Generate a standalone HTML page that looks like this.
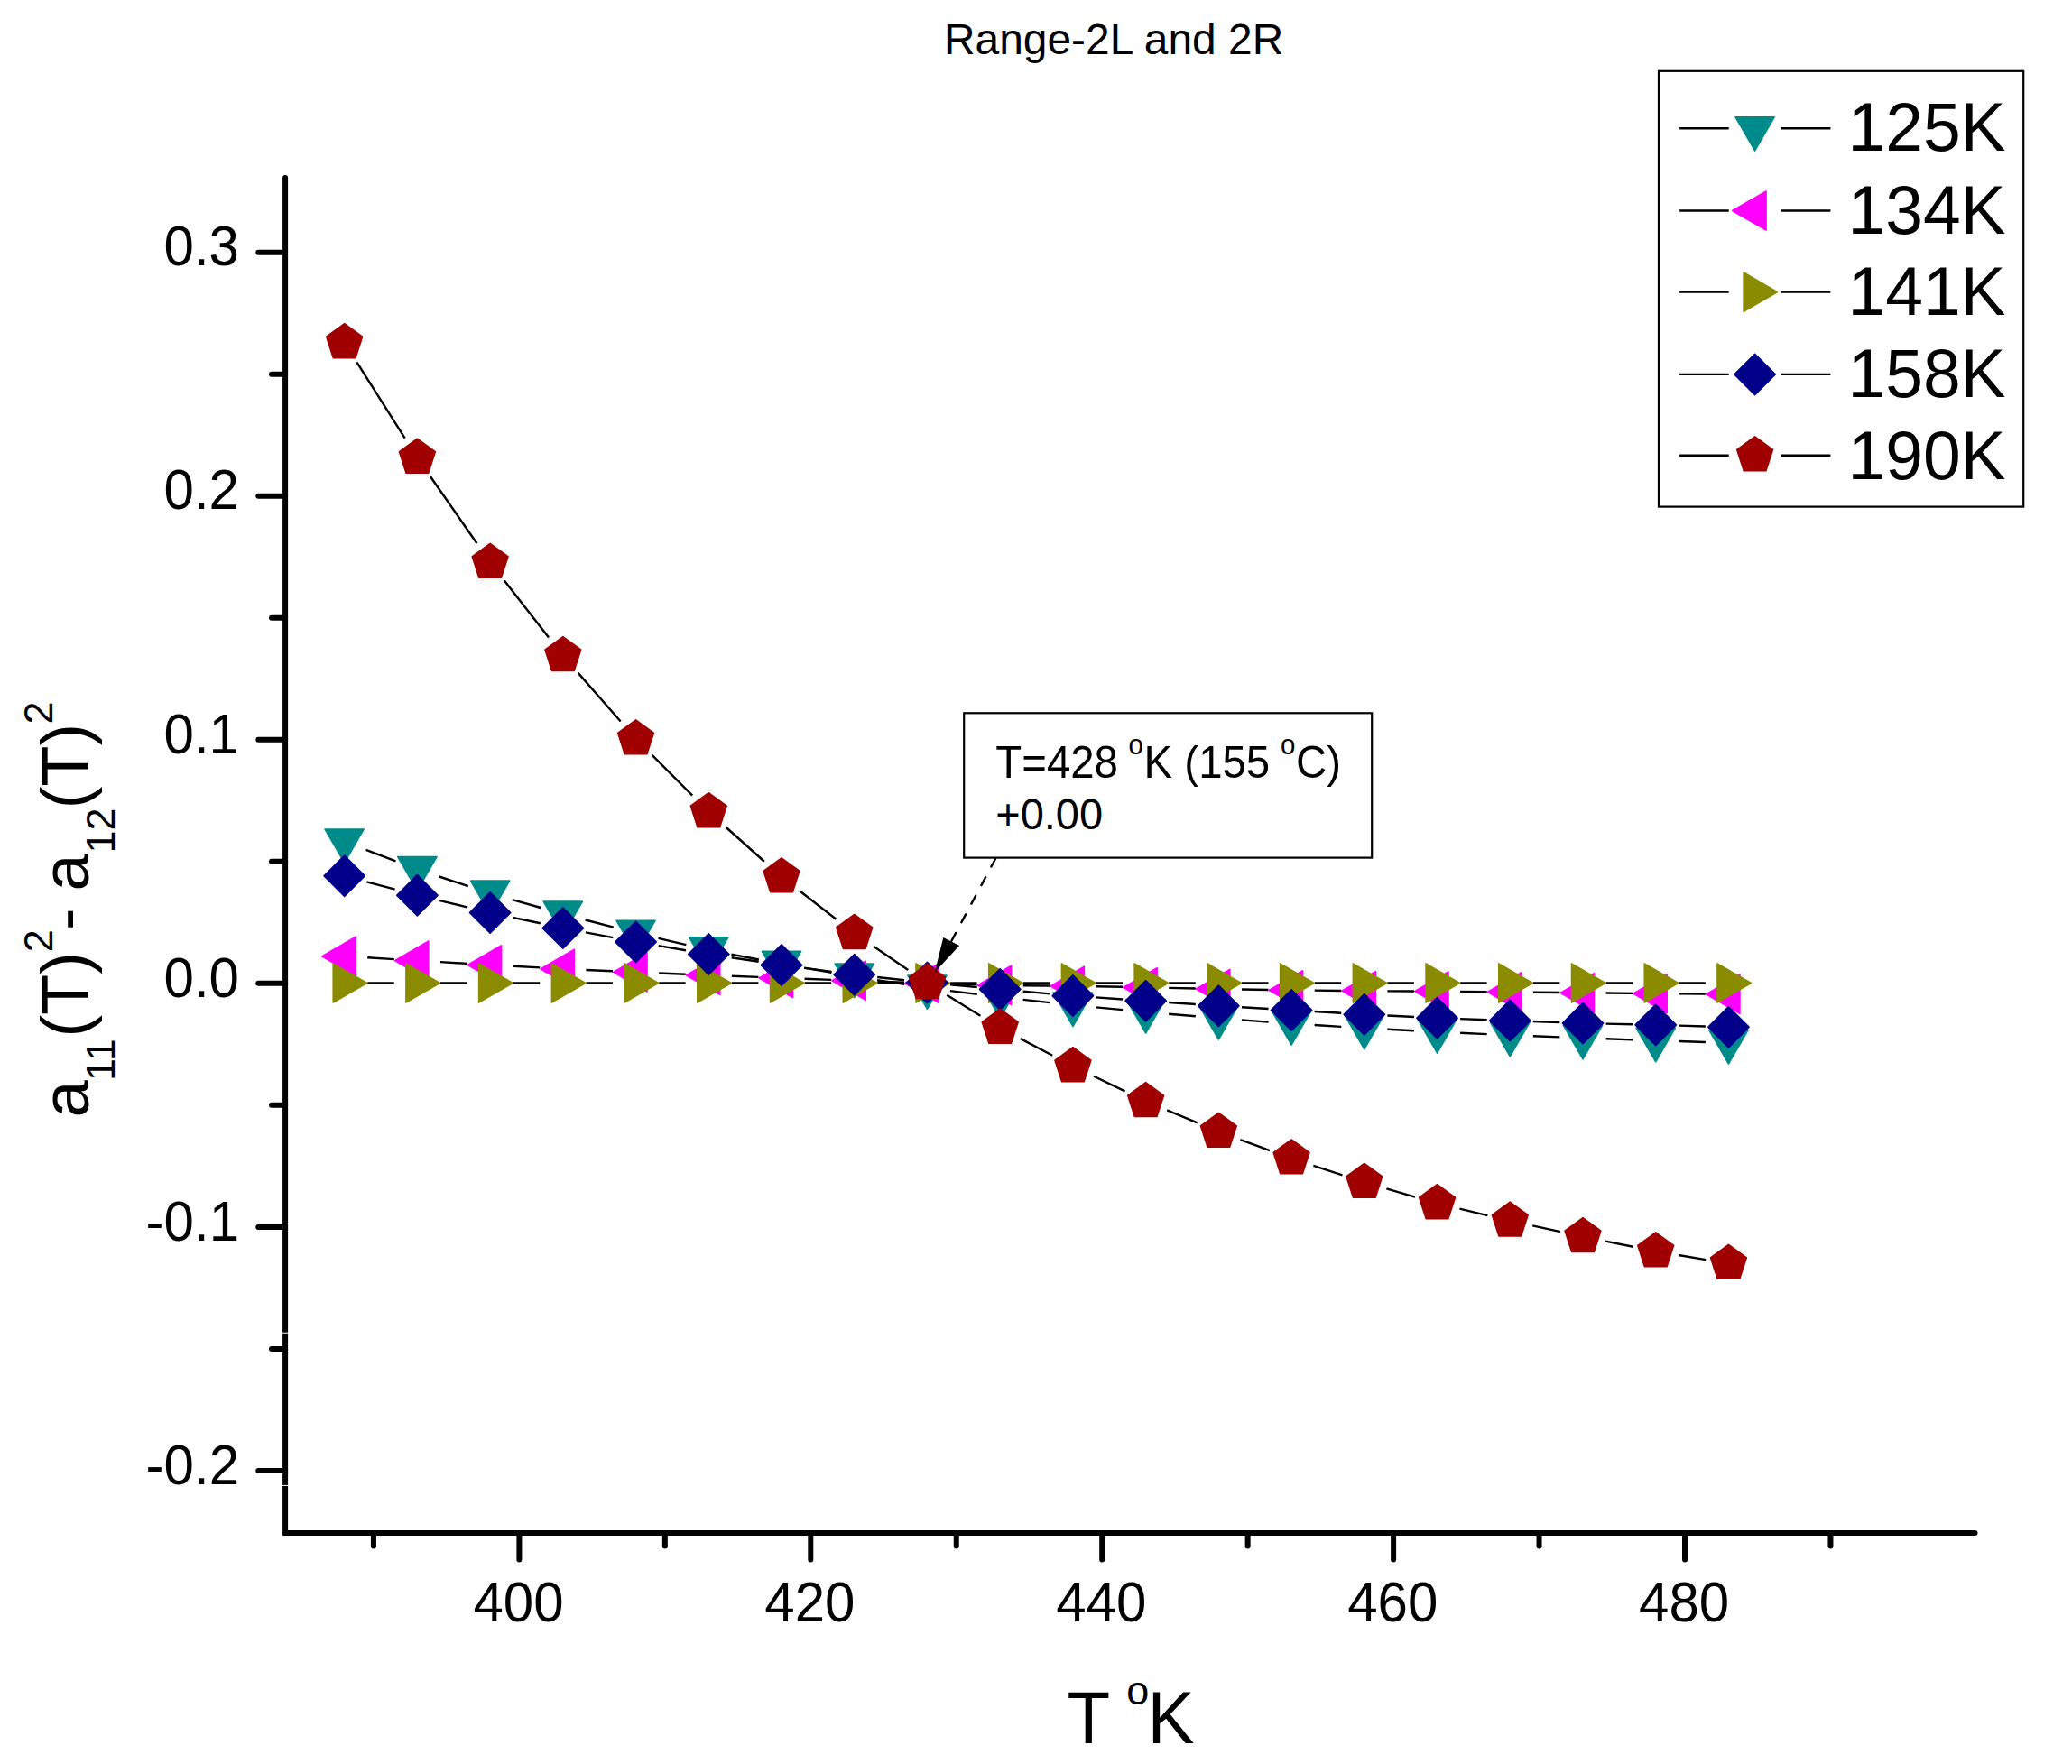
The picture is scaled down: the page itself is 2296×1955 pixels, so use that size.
<!DOCTYPE html>
<html lang="en"><head><meta charset="utf-8"><title>Range-2L and 2R</title>
<style>html,body{margin:0;padding:0;background:#fff}body{width:2296px;height:1955px;overflow:hidden}svg{display:block}text{font-family:"Liberation Sans",Arial,Helvetica,sans-serif;fill:#000}</style></head><body>
<svg width="2296" height="1955" viewBox="0 0 2296 1955">
<rect width="2296" height="1955" fill="#fff"/>
<text x="1234.1" y="60.4" font-size="47.9" text-anchor="middle">Range-2L and 2R</text>
<g stroke="#000" stroke-width="6" stroke-linecap="round" fill="none">
<path d="M316.1 197L316.1 1699L2188.5 1699" stroke-linejoin="miter"/>
<path d="M286.3 279.76L316.1 279.76"/>
<path d="M301 414.77L316.1 414.77"/>
<path d="M286.3 549.79L316.1 549.79"/>
<path d="M301 684.8L316.1 684.8"/>
<path d="M286.3 819.82L316.1 819.82"/>
<path d="M301 954.83L316.1 954.83"/>
<path d="M286.3 1089.85L316.1 1089.85"/>
<path d="M301 1224.87L316.1 1224.87"/>
<path d="M286.3 1359.88L316.1 1359.88"/>
<path d="M301 1494.89L316.1 1494.89"/>
<path d="M286.3 1629.91L316.1 1629.91"/>
<path d="M413.95 1699L413.95 1713.5"/>
<path d="M575.4 1699L575.4 1728.5"/>
<path d="M736.85 1699L736.85 1713.5"/>
<path d="M898.3 1699L898.3 1728.5"/>
<path d="M1059.75 1699L1059.75 1713.5"/>
<path d="M1221.2 1699L1221.2 1728.5"/>
<path d="M1382.65 1699L1382.65 1713.5"/>
<path d="M1544.1 1699L1544.1 1728.5"/>
<path d="M1705.55 1699L1705.55 1713.5"/>
<path d="M1867 1699L1867 1728.5"/>
<path d="M2028.45 1699L2028.45 1713.5"/>
</g>
<path d="M312 1477.2h9M312 1646.4h9" stroke="#fff" stroke-width="1"/>
<g font-size="60">
<text transform="translate(265 294.46) scale(1 1.04)" text-anchor="end">0.3</text>
<text transform="translate(265 564.49) scale(1 1.04)" text-anchor="end">0.2</text>
<text transform="translate(265 834.52) scale(1 1.04)" text-anchor="end">0.1</text>
<text transform="translate(265 1104.55) scale(1 1.04)" text-anchor="end">0.0</text>
<text transform="translate(265 1374.58) scale(1 1.04)" text-anchor="end">-0.1</text>
<text transform="translate(265 1644.61) scale(1 1.04)" text-anchor="end">-0.2</text>
<text transform="translate(574.5 1796.6) scale(1 1.04)" text-anchor="middle">400</text>
<text transform="translate(897.4 1796.6) scale(1 1.04)" text-anchor="middle">420</text>
<text transform="translate(1220.3 1796.6) scale(1 1.04)" text-anchor="middle">440</text>
<text transform="translate(1543.2 1796.6) scale(1 1.04)" text-anchor="middle">460</text>
<text transform="translate(1866.1 1796.6) scale(1 1.04)" text-anchor="middle">480</text>
</g>
<g><path d="M405.6 941.97L438.45 954.43M486.7 971.51L518.8 982.09M567.74 997.09L599.21 1006.01M648.6 1019.5L679.8 1027.7M729.51 1039.95L760.34 1047.05M810.43 1057.63L840.87 1063.47M891.24 1072.61L921.5 1077.79M972.02 1086.11L1002.18 1090.89M1052.86 1098.08L1082.78 1101.82M1133.63 1107.84L1163.47 1111.16M1214.4 1116.37L1244.14 1119.13M1295.14 1123.71L1324.86 1126.29M1375.89 1130.4L1405.56 1132.6M1456.64 1136.05L1486.26 1137.85M1537.38 1140.73L1566.97 1142.27M1618.11 1144.77L1647.69 1146.13M1698.84 1148.28L1728.4 1149.42M1779.57 1151.32L1809.13 1152.38M1860.3 1154.06L1889.85 1154.94" stroke="#000" stroke-width="2.4" fill="none"/>
<polygon points="381.66,956.4 360.01,918.9 403.31,918.9" fill="#008B8B" stroke="#008B8B" stroke-width="1.5" stroke-linejoin="round"/>
<polygon points="462.38,987 440.73,949.5 484.04,949.5" fill="#008B8B" stroke="#008B8B" stroke-width="1.5" stroke-linejoin="round"/>
<polygon points="543.11,1013.6 521.46,976.1 564.76,976.1" fill="#008B8B" stroke="#008B8B" stroke-width="1.5" stroke-linejoin="round"/>
<polygon points="623.84,1036.5 602.18,999 645.49,999" fill="#008B8B" stroke="#008B8B" stroke-width="1.5" stroke-linejoin="round"/>
<polygon points="704.56,1057.7 682.91,1020.2 726.21,1020.2" fill="#008B8B" stroke="#008B8B" stroke-width="1.5" stroke-linejoin="round"/>
<polygon points="785.28,1076.3 763.63,1038.8 806.94,1038.8" fill="#008B8B" stroke="#008B8B" stroke-width="1.5" stroke-linejoin="round"/>
<polygon points="866.01,1091.8 844.36,1054.3 887.66,1054.3" fill="#008B8B" stroke="#008B8B" stroke-width="1.5" stroke-linejoin="round"/>
<polygon points="946.73,1105.6 925.08,1068.1 968.39,1068.1" fill="#008B8B" stroke="#008B8B" stroke-width="1.5" stroke-linejoin="round"/>
<polygon points="1027.46,1118.4 1005.81,1080.9 1049.11,1080.9" fill="#008B8B" stroke="#008B8B" stroke-width="1.5" stroke-linejoin="round"/>
<polygon points="1108.18,1128.5 1086.53,1091 1129.84,1091" fill="#008B8B" stroke="#008B8B" stroke-width="1.5" stroke-linejoin="round"/>
<polygon points="1188.91,1137.5 1167.26,1100 1210.56,1100" fill="#008B8B" stroke="#008B8B" stroke-width="1.5" stroke-linejoin="round"/>
<polygon points="1269.63,1145 1247.98,1107.5 1291.29,1107.5" fill="#008B8B" stroke="#008B8B" stroke-width="1.5" stroke-linejoin="round"/>
<polygon points="1350.36,1152 1328.71,1114.5 1372.01,1114.5" fill="#008B8B" stroke="#008B8B" stroke-width="1.5" stroke-linejoin="round"/>
<polygon points="1431.09,1158 1409.43,1120.5 1452.74,1120.5" fill="#008B8B" stroke="#008B8B" stroke-width="1.5" stroke-linejoin="round"/>
<polygon points="1511.81,1162.9 1490.16,1125.4 1533.46,1125.4" fill="#008B8B" stroke="#008B8B" stroke-width="1.5" stroke-linejoin="round"/>
<polygon points="1592.53,1167.1 1570.88,1129.6 1614.19,1129.6" fill="#008B8B" stroke="#008B8B" stroke-width="1.5" stroke-linejoin="round"/>
<polygon points="1673.26,1170.8 1651.61,1133.3 1694.91,1133.3" fill="#008B8B" stroke="#008B8B" stroke-width="1.5" stroke-linejoin="round"/>
<polygon points="1753.99,1173.9 1732.33,1136.4 1775.64,1136.4" fill="#008B8B" stroke="#008B8B" stroke-width="1.5" stroke-linejoin="round"/>
<polygon points="1834.71,1176.8 1813.06,1139.3 1856.36,1139.3" fill="#008B8B" stroke="#008B8B" stroke-width="1.5" stroke-linejoin="round"/>
<polygon points="1915.43,1179.2 1893.78,1141.7 1937.09,1141.7" fill="#008B8B" stroke="#008B8B" stroke-width="1.5" stroke-linejoin="round"/></g>
<g><path d="M407.21 1061.32L436.83 1063.08M487.94 1066.12L517.56 1067.88M568.67 1070.79L598.27 1072.41M649.41 1074.94L678.99 1076.26M730.14 1078.48L759.71 1079.72M810.87 1081.78L840.43 1082.92M891.59 1084.82L921.15 1085.88M972.32 1087.69L1001.88 1088.71M1053.05 1090.33L1082.6 1091.17M1133.78 1092.19L1163.31 1092.51M1214.51 1093.28L1244.04 1093.82M1295.23 1094.84L1324.77 1095.46M1375.96 1096.44L1405.49 1096.96M1456.68 1097.65L1486.21 1097.95M1537.41 1098.33L1566.94 1098.47M1618.13 1098.85L1647.66 1099.15M1698.86 1099.69L1728.39 1100.01M1779.58 1100.55L1809.11 1100.85M1860.31 1101.32L1889.84 1101.58" stroke="#000" stroke-width="2.4" fill="none"/>
<polygon points="356.66,1059.8 394.16,1038.15 394.16,1081.45" fill="#FF00FF" stroke="#FF00FF" stroke-width="1.5" stroke-linejoin="round"/>
<polygon points="437.38,1064.6 474.88,1042.95 474.88,1086.25" fill="#FF00FF" stroke="#FF00FF" stroke-width="1.5" stroke-linejoin="round"/>
<polygon points="518.11,1069.4 555.61,1047.75 555.61,1091.05" fill="#FF00FF" stroke="#FF00FF" stroke-width="1.5" stroke-linejoin="round"/>
<polygon points="598.84,1073.8 636.34,1052.15 636.34,1095.45" fill="#FF00FF" stroke="#FF00FF" stroke-width="1.5" stroke-linejoin="round"/>
<polygon points="679.56,1077.4 717.06,1055.75 717.06,1099.05" fill="#FF00FF" stroke="#FF00FF" stroke-width="1.5" stroke-linejoin="round"/>
<polygon points="760.28,1080.8 797.78,1059.15 797.78,1102.45" fill="#FF00FF" stroke="#FF00FF" stroke-width="1.5" stroke-linejoin="round"/>
<polygon points="841.01,1083.9 878.51,1062.25 878.51,1105.55" fill="#FF00FF" stroke="#FF00FF" stroke-width="1.5" stroke-linejoin="round"/>
<polygon points="921.73,1086.8 959.23,1065.15 959.23,1108.45" fill="#FF00FF" stroke="#FF00FF" stroke-width="1.5" stroke-linejoin="round"/>
<polygon points="1002.46,1089.6 1039.96,1067.95 1039.96,1111.25" fill="#FF00FF" stroke="#FF00FF" stroke-width="1.5" stroke-linejoin="round"/>
<polygon points="1083.18,1091.9 1120.68,1070.25 1120.68,1113.55" fill="#FF00FF" stroke="#FF00FF" stroke-width="1.5" stroke-linejoin="round"/>
<polygon points="1163.91,1092.8 1201.41,1071.15 1201.41,1114.45" fill="#FF00FF" stroke="#FF00FF" stroke-width="1.5" stroke-linejoin="round"/>
<polygon points="1244.63,1094.3 1282.13,1072.65 1282.13,1115.95" fill="#FF00FF" stroke="#FF00FF" stroke-width="1.5" stroke-linejoin="round"/>
<polygon points="1325.36,1096 1362.86,1074.35 1362.86,1117.65" fill="#FF00FF" stroke="#FF00FF" stroke-width="1.5" stroke-linejoin="round"/>
<polygon points="1406.09,1097.4 1443.59,1075.75 1443.59,1119.05" fill="#FF00FF" stroke="#FF00FF" stroke-width="1.5" stroke-linejoin="round"/>
<polygon points="1486.81,1098.2 1524.31,1076.55 1524.31,1119.85" fill="#FF00FF" stroke="#FF00FF" stroke-width="1.5" stroke-linejoin="round"/>
<polygon points="1567.53,1098.6 1605.03,1076.95 1605.03,1120.25" fill="#FF00FF" stroke="#FF00FF" stroke-width="1.5" stroke-linejoin="round"/>
<polygon points="1648.26,1099.4 1685.76,1077.75 1685.76,1121.05" fill="#FF00FF" stroke="#FF00FF" stroke-width="1.5" stroke-linejoin="round"/>
<polygon points="1728.99,1100.3 1766.49,1078.65 1766.49,1121.95" fill="#FF00FF" stroke="#FF00FF" stroke-width="1.5" stroke-linejoin="round"/>
<polygon points="1809.71,1101.1 1847.21,1079.45 1847.21,1122.75" fill="#FF00FF" stroke="#FF00FF" stroke-width="1.5" stroke-linejoin="round"/>
<polygon points="1890.43,1101.8 1927.93,1080.15 1927.93,1123.45" fill="#FF00FF" stroke="#FF00FF" stroke-width="1.5" stroke-linejoin="round"/></g>
<g><path d="M407.26 1089.5L436.78 1089.5M487.99 1089.5L517.51 1089.5M568.71 1089.5L598.24 1089.5M649.44 1089.5L678.96 1089.5M730.16 1089.5L759.68 1089.5M810.88 1089.5L840.41 1089.5M891.61 1089.5L921.13 1089.5M972.33 1089.5L1001.86 1089.5M1053.06 1089.5L1082.59 1089.5M1133.78 1089.5L1163.31 1089.5M1214.51 1089.5L1244.04 1089.5M1295.23 1089.5L1324.76 1089.5M1375.96 1089.5L1405.49 1089.5M1456.68 1089.5L1486.21 1089.5M1537.41 1089.5L1566.93 1089.5M1618.13 1089.5L1647.66 1089.5M1698.86 1089.5L1728.39 1089.5M1779.59 1089.5L1809.11 1089.5M1860.31 1089.5L1889.84 1089.5" stroke="#000" stroke-width="2.4" fill="none"/>
<polygon points="406.66,1089.5 369.16,1111.15 369.16,1067.85" fill="#8B8B00" stroke="#8B8B00" stroke-width="1.5" stroke-linejoin="round"/>
<polygon points="487.38,1089.5 449.88,1111.15 449.88,1067.85" fill="#8B8B00" stroke="#8B8B00" stroke-width="1.5" stroke-linejoin="round"/>
<polygon points="568.11,1089.5 530.61,1111.15 530.61,1067.85" fill="#8B8B00" stroke="#8B8B00" stroke-width="1.5" stroke-linejoin="round"/>
<polygon points="648.84,1089.5 611.34,1111.15 611.34,1067.85" fill="#8B8B00" stroke="#8B8B00" stroke-width="1.5" stroke-linejoin="round"/>
<polygon points="729.56,1089.5 692.06,1111.15 692.06,1067.85" fill="#8B8B00" stroke="#8B8B00" stroke-width="1.5" stroke-linejoin="round"/>
<polygon points="810.28,1089.5 772.78,1111.15 772.78,1067.85" fill="#8B8B00" stroke="#8B8B00" stroke-width="1.5" stroke-linejoin="round"/>
<polygon points="891.01,1089.5 853.51,1111.15 853.51,1067.85" fill="#8B8B00" stroke="#8B8B00" stroke-width="1.5" stroke-linejoin="round"/>
<polygon points="971.73,1089.5 934.23,1111.15 934.23,1067.85" fill="#8B8B00" stroke="#8B8B00" stroke-width="1.5" stroke-linejoin="round"/>
<polygon points="1052.46,1089.5 1014.96,1111.15 1014.96,1067.85" fill="#8B8B00" stroke="#8B8B00" stroke-width="1.5" stroke-linejoin="round"/>
<polygon points="1133.18,1089.5 1095.68,1111.15 1095.68,1067.85" fill="#8B8B00" stroke="#8B8B00" stroke-width="1.5" stroke-linejoin="round"/>
<polygon points="1213.91,1089.5 1176.41,1111.15 1176.41,1067.85" fill="#8B8B00" stroke="#8B8B00" stroke-width="1.5" stroke-linejoin="round"/>
<polygon points="1294.63,1089.5 1257.13,1111.15 1257.13,1067.85" fill="#8B8B00" stroke="#8B8B00" stroke-width="1.5" stroke-linejoin="round"/>
<polygon points="1375.36,1089.5 1337.86,1111.15 1337.86,1067.85" fill="#8B8B00" stroke="#8B8B00" stroke-width="1.5" stroke-linejoin="round"/>
<polygon points="1456.09,1089.5 1418.59,1111.15 1418.59,1067.85" fill="#8B8B00" stroke="#8B8B00" stroke-width="1.5" stroke-linejoin="round"/>
<polygon points="1536.81,1089.5 1499.31,1111.15 1499.31,1067.85" fill="#8B8B00" stroke="#8B8B00" stroke-width="1.5" stroke-linejoin="round"/>
<polygon points="1617.53,1089.5 1580.03,1111.15 1580.03,1067.85" fill="#8B8B00" stroke="#8B8B00" stroke-width="1.5" stroke-linejoin="round"/>
<polygon points="1698.26,1089.5 1660.76,1111.15 1660.76,1067.85" fill="#8B8B00" stroke="#8B8B00" stroke-width="1.5" stroke-linejoin="round"/>
<polygon points="1778.99,1089.5 1741.49,1111.15 1741.49,1067.85" fill="#8B8B00" stroke="#8B8B00" stroke-width="1.5" stroke-linejoin="round"/>
<polygon points="1859.71,1089.5 1822.21,1111.15 1822.21,1067.85" fill="#8B8B00" stroke="#8B8B00" stroke-width="1.5" stroke-linejoin="round"/>
<polygon points="1940.43,1089.5 1902.93,1111.15 1902.93,1067.85" fill="#8B8B00" stroke="#8B8B00" stroke-width="1.5" stroke-linejoin="round"/></g>
<g><path d="M406.4 977.29L437.65 985.61M487.28 998.15L518.21 1005.55M568.15 1016.81L598.79 1023.29M648.99 1033.37L679.41 1039.13M729.8 1048.15L760.04 1053.25M810.6 1061.29L840.69 1065.81M891.39 1072.93L921.35 1076.87M972.18 1082.97L1002.01 1086.23M1052.95 1091.34L1082.69 1094.06M1133.68 1098.67L1163.41 1101.33M1214.45 1105.4L1244.1 1107.5M1295.18 1111.01L1324.82 1112.99M1375.91 1116.22L1405.53 1117.98M1456.64 1121.02L1486.26 1122.78M1537.38 1125.54L1566.96 1126.96M1618.12 1129.12L1647.68 1130.18M1698.84 1132.02L1728.4 1133.08M1779.58 1134.6L1809.12 1135.3M1860.3 1136.66L1889.85 1137.54" stroke="#000" stroke-width="2.4" fill="none"/>
<polygon points="381.66,948 404.36,970.7 381.66,993.4 358.96,970.7" fill="#00008B" stroke="#00008B" stroke-width="1.5" stroke-linejoin="round"/>
<polygon points="462.38,969.5 485.08,992.2 462.38,1014.9 439.69,992.2" fill="#00008B" stroke="#00008B" stroke-width="1.5" stroke-linejoin="round"/>
<polygon points="543.11,988.8 565.81,1011.5 543.11,1034.2 520.41,1011.5" fill="#00008B" stroke="#00008B" stroke-width="1.5" stroke-linejoin="round"/>
<polygon points="623.84,1005.9 646.54,1028.6 623.84,1051.3 601.13,1028.6" fill="#00008B" stroke="#00008B" stroke-width="1.5" stroke-linejoin="round"/>
<polygon points="704.56,1021.2 727.26,1043.9 704.56,1066.6 681.86,1043.9" fill="#00008B" stroke="#00008B" stroke-width="1.5" stroke-linejoin="round"/>
<polygon points="785.28,1034.8 807.99,1057.5 785.28,1080.2 762.58,1057.5" fill="#00008B" stroke="#00008B" stroke-width="1.5" stroke-linejoin="round"/>
<polygon points="866.01,1046.9 888.71,1069.6 866.01,1092.3 843.31,1069.6" fill="#00008B" stroke="#00008B" stroke-width="1.5" stroke-linejoin="round"/>
<polygon points="946.73,1057.5 969.43,1080.2 946.73,1102.9 924.03,1080.2" fill="#00008B" stroke="#00008B" stroke-width="1.5" stroke-linejoin="round"/>
<polygon points="1027.46,1066.3 1050.16,1089 1027.46,1111.7 1004.76,1089" fill="#00008B" stroke="#00008B" stroke-width="1.5" stroke-linejoin="round"/>
<polygon points="1108.18,1073.7 1130.88,1096.4 1108.18,1119.1 1085.48,1096.4" fill="#00008B" stroke="#00008B" stroke-width="1.5" stroke-linejoin="round"/>
<polygon points="1188.91,1080.9 1211.61,1103.6 1188.91,1126.3 1166.21,1103.6" fill="#00008B" stroke="#00008B" stroke-width="1.5" stroke-linejoin="round"/>
<polygon points="1269.63,1086.6 1292.34,1109.3 1269.63,1132 1246.93,1109.3" fill="#00008B" stroke="#00008B" stroke-width="1.5" stroke-linejoin="round"/>
<polygon points="1350.36,1092 1373.06,1114.7 1350.36,1137.4 1327.66,1114.7" fill="#00008B" stroke="#00008B" stroke-width="1.5" stroke-linejoin="round"/>
<polygon points="1431.09,1096.8 1453.79,1119.5 1431.09,1142.2 1408.38,1119.5" fill="#00008B" stroke="#00008B" stroke-width="1.5" stroke-linejoin="round"/>
<polygon points="1511.81,1101.6 1534.51,1124.3 1511.81,1147 1489.11,1124.3" fill="#00008B" stroke="#00008B" stroke-width="1.5" stroke-linejoin="round"/>
<polygon points="1592.53,1105.5 1615.23,1128.2 1592.53,1150.9 1569.83,1128.2" fill="#00008B" stroke="#00008B" stroke-width="1.5" stroke-linejoin="round"/>
<polygon points="1673.26,1108.4 1695.96,1131.1 1673.26,1153.8 1650.56,1131.1" fill="#00008B" stroke="#00008B" stroke-width="1.5" stroke-linejoin="round"/>
<polygon points="1753.99,1111.3 1776.69,1134 1753.99,1156.7 1731.29,1134" fill="#00008B" stroke="#00008B" stroke-width="1.5" stroke-linejoin="round"/>
<polygon points="1834.71,1113.2 1857.41,1135.9 1834.71,1158.6 1812.01,1135.9" fill="#00008B" stroke="#00008B" stroke-width="1.5" stroke-linejoin="round"/>
<polygon points="1915.43,1115.6 1938.13,1138.3 1915.43,1161 1892.73,1138.3" fill="#00008B" stroke="#00008B" stroke-width="1.5" stroke-linejoin="round"/></g>
<g><path d="M395.35 401.33L448.69 485.57M477 528.22L528.5 602.28M558.87 643.47L608.07 706.43M640.7 745.86L687.7 799.54M722.64 836.92L767.2 881.58M804.38 916.75L846.92 954.75M886.24 987.49L926.51 1018.71M967.89 1048.81L1006.3 1074.99M1049.25 1102.84L1086.4 1125.76M1130.84 1151.13L1166.26 1169.77M1211.98 1192.79L1246.56 1209.41M1293.25 1230.39L1326.75 1244.41M1374.4 1263.09L1407.04 1275.01M1455.41 1291.78L1487.49 1302.32M1536.4 1317.43L1567.95 1326.57M1617.43 1339.65L1648.36 1347.05M1698.27 1358.45L1728.97 1365.15M1779.08 1375.64L1809.61 1381.76M1859.96 1391.02L1890.19 1396.08" stroke="#000" stroke-width="2.4" fill="none"/>
<polygon points="381.66,358.7 401.63,373.21 394,396.69 369.32,396.69 361.69,373.21" fill="#A00000" stroke="#A00000" stroke-width="1.5" stroke-linejoin="round"/>
<polygon points="462.38,486.2 482.36,500.71 474.73,524.19 450.04,524.19 442.41,500.71" fill="#A00000" stroke="#A00000" stroke-width="1.5" stroke-linejoin="round"/>
<polygon points="543.11,602.3 563.08,616.81 555.45,640.29 530.77,640.29 523.14,616.81" fill="#A00000" stroke="#A00000" stroke-width="1.5" stroke-linejoin="round"/>
<polygon points="623.84,705.6 643.81,720.11 636.18,743.59 611.49,743.59 603.86,720.11" fill="#A00000" stroke="#A00000" stroke-width="1.5" stroke-linejoin="round"/>
<polygon points="704.56,797.8 724.53,812.31 716.9,835.79 692.22,835.79 684.59,812.31" fill="#A00000" stroke="#A00000" stroke-width="1.5" stroke-linejoin="round"/>
<polygon points="785.28,878.7 805.26,893.21 797.63,916.69 772.94,916.69 765.31,893.21" fill="#A00000" stroke="#A00000" stroke-width="1.5" stroke-linejoin="round"/>
<polygon points="866.01,950.8 885.98,965.31 878.35,988.79 853.67,988.79 846.04,965.31" fill="#A00000" stroke="#A00000" stroke-width="1.5" stroke-linejoin="round"/>
<polygon points="946.73,1013.4 966.71,1027.91 959.08,1051.39 934.39,1051.39 926.76,1027.91" fill="#A00000" stroke="#A00000" stroke-width="1.5" stroke-linejoin="round"/>
<polygon points="1027.46,1068.4 1047.43,1082.91 1039.8,1106.39 1015.12,1106.39 1007.49,1082.91" fill="#A00000" stroke="#A00000" stroke-width="1.5" stroke-linejoin="round"/>
<polygon points="1108.18,1118.2 1128.16,1132.71 1120.53,1156.19 1095.84,1156.19 1088.21,1132.71" fill="#A00000" stroke="#A00000" stroke-width="1.5" stroke-linejoin="round"/>
<polygon points="1188.91,1160.7 1208.88,1175.21 1201.25,1198.69 1176.57,1198.69 1168.94,1175.21" fill="#A00000" stroke="#A00000" stroke-width="1.5" stroke-linejoin="round"/>
<polygon points="1269.63,1199.5 1289.61,1214.01 1281.98,1237.49 1257.29,1237.49 1249.66,1214.01" fill="#A00000" stroke="#A00000" stroke-width="1.5" stroke-linejoin="round"/>
<polygon points="1350.36,1233.3 1370.33,1247.81 1362.7,1271.29 1338.02,1271.29 1330.39,1247.81" fill="#A00000" stroke="#A00000" stroke-width="1.5" stroke-linejoin="round"/>
<polygon points="1431.09,1262.8 1451.06,1277.31 1443.43,1300.79 1418.74,1300.79 1411.11,1277.31" fill="#A00000" stroke="#A00000" stroke-width="1.5" stroke-linejoin="round"/>
<polygon points="1511.81,1289.3 1531.78,1303.81 1524.15,1327.29 1499.47,1327.29 1491.84,1303.81" fill="#A00000" stroke="#A00000" stroke-width="1.5" stroke-linejoin="round"/>
<polygon points="1592.53,1312.7 1612.51,1327.21 1604.88,1350.69 1580.19,1350.69 1572.56,1327.21" fill="#A00000" stroke="#A00000" stroke-width="1.5" stroke-linejoin="round"/>
<polygon points="1673.26,1332 1693.23,1346.51 1685.6,1369.99 1660.92,1369.99 1653.29,1346.51" fill="#A00000" stroke="#A00000" stroke-width="1.5" stroke-linejoin="round"/>
<polygon points="1753.99,1349.6 1773.96,1364.11 1766.33,1387.59 1741.64,1387.59 1734.01,1364.11" fill="#A00000" stroke="#A00000" stroke-width="1.5" stroke-linejoin="round"/>
<polygon points="1834.71,1365.8 1854.68,1380.31 1847.05,1403.79 1822.37,1403.79 1814.74,1380.31" fill="#A00000" stroke="#A00000" stroke-width="1.5" stroke-linejoin="round"/>
<polygon points="1915.43,1379.3 1935.41,1393.81 1927.78,1417.29 1903.09,1417.29 1895.46,1393.81" fill="#A00000" stroke="#A00000" stroke-width="1.5" stroke-linejoin="round"/></g>
<rect x="1068.2" y="790.3" width="452" height="160.3" fill="#fff" stroke="#000" stroke-width="2.2"/>
<path d="M1103.1 951.7L1054 1043.5" stroke="#000" stroke-width="2.4" stroke-dasharray="10 13.3" stroke-linecap="round" fill="none"/>
<polygon points="1035.8,1077.6 1045.3,1038.9 1063.1,1048.1" fill="#000"/>
<text transform="translate(0 861.5) scale(1 1.04)" font-size="47.4"><tspan x="1103.3" y="0">T=428</tspan><tspan x="1250.6" y="-24.4" font-size="29.5">o</tspan><tspan x="1267.6" y="0">K (155</tspan><tspan x="1418.9" y="-24.4" font-size="29.5">o</tspan><tspan x="1436" y="0">C)</tspan></text>
<text transform="translate(1103.2 919.1) scale(1 1.04)" font-size="47">+0.00</text>
<rect x="1838" y="78.8" width="404.2" height="482.8" fill="#fff" stroke="#000" stroke-width="2.2"/>
<path d="M1861.1 142.2H1915.7M1973.6 142.2H2028.4" stroke="#000" stroke-width="2.4"/>
<polygon points="1944.6,167.2 1922.95,129.7 1966.25,129.7" fill="#008B8B" stroke="#008B8B" stroke-width="1.5" stroke-linejoin="round"/>
<text transform="translate(2047.5 167.4) scale(1 1.01)" font-size="75">125K</text>
<path d="M1861.1 233.5H1915.7M1973.6 233.5H2028.4" stroke="#000" stroke-width="2.4"/>
<polygon points="1919.6,233.5 1957.1,211.85 1957.1,255.15" fill="#FF00FF" stroke="#FF00FF" stroke-width="1.5" stroke-linejoin="round"/>
<text transform="translate(2047.5 259.4) scale(1 1.01)" font-size="75">134K</text>
<path d="M1861.1 323.6H1915.7M1973.6 323.6H2028.4" stroke="#000" stroke-width="2.4"/>
<polygon points="1969.6,323.6 1932.1,345.25 1932.1,301.95" fill="#8B8B00" stroke="#8B8B00" stroke-width="1.5" stroke-linejoin="round"/>
<text transform="translate(2047.5 348.9) scale(1 1.01)" font-size="75">141K</text>
<path d="M1861.1 414.9H1915.7M1973.6 414.9H2028.4" stroke="#000" stroke-width="2.4"/>
<polygon points="1944.6,392.2 1967.3,414.9 1944.6,437.6 1921.9,414.9" fill="#00008B" stroke="#00008B" stroke-width="1.5" stroke-linejoin="round"/>
<text transform="translate(2047.5 440.4) scale(1 1.01)" font-size="75">158K</text>
<path d="M1861.1 504.8H1915.7M1973.6 504.8H2028.4" stroke="#000" stroke-width="2.4"/>
<polygon points="1944.6,483.8 1964.57,498.31 1956.94,521.79 1932.26,521.79 1924.63,498.31" fill="#A00000" stroke="#A00000" stroke-width="1.5" stroke-linejoin="round"/>
<text transform="translate(2047.5 530.9) scale(1 1.01)" font-size="75">190K</text>
<text transform="translate(0 1931.9) scale(1 1.048)" font-size="78"><tspan x="1182.4" y="0">T</tspan><tspan x="1271.4" y="0">K</tspan></text>
<text x="1248.3" y="1888.5" font-size="45">o</text>
<text transform="translate(98.3 1235.9) rotate(-90)">
<tspan x="-2.7" y="0" font-size="74">a</tspan>
<tspan x="38" y="28.8" font-size="45">11</tspan>
<tspan x="86.3" y="0" font-size="74">(T)</tspan>
<tspan x="180.7" y="-40" font-size="45">2</tspan>
<tspan x="204.9" y="0" font-size="74">-</tspan>
<tspan x="248.3" y="0" font-size="74">a</tspan>
<tspan x="290.3" y="28.8" font-size="45">12</tspan>
<tspan x="339.6" y="0" font-size="74">(T)</tspan>
<tspan x="433.3" y="-40" font-size="45">2</tspan>
</text>
</svg></body></html>
